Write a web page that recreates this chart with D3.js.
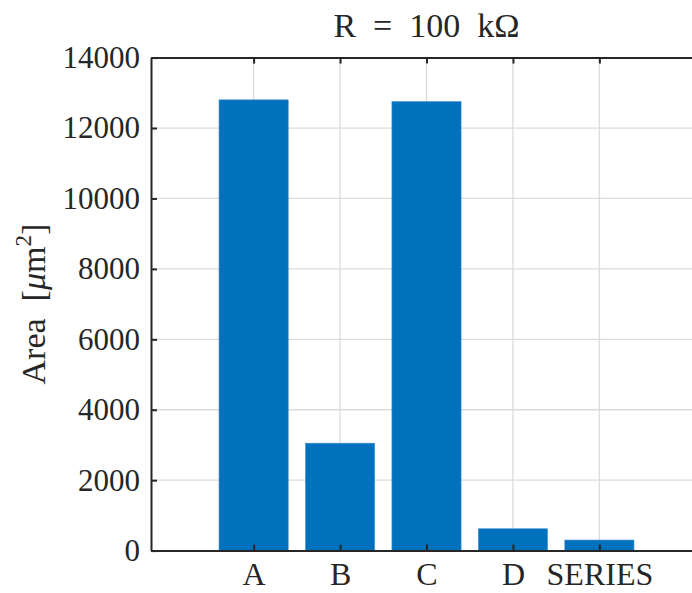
<!DOCTYPE html>
<html>
<head>
<meta charset="utf-8">
<script src="https://cdn.jsdelivr.net/npm/d3@7"></script>
<style>
  body { margin: 0; background: #fff; }
  text { font-family: "Liberation Serif", "DejaVu Serif", serif; fill: #262626; white-space: pre; }
</style>
</head>
<body>
<svg id="chart" width="692" height="593"></svg>
<script>
// values
var categories = ["A", "B", "C", "D", "SERIES"];
var areas = [12800, 3050, 12750, 620, 300];
var yTicks = [0, 2000, 4000, 6000, 8000, 10000, 12000, 14000];
var xLimits = [-0.187, 6.187];
var yLimits = [0, 14000];

var svg = d3.select("#chart");
var plotL = 151, plotR = 702, plotT = 57.6, plotB = 550.6;

var x = d3.scaleLinear().domain(xLimits).range([plotL, plotR]);
var y = d3.scaleLinear().domain(yLimits).range([plotB, plotT]);
var barW = x(1.8) - x(1); // BarWidth 0.8

svg.append("rect").attr("width", 692).attr("height", 593).attr("fill", "#fff");

// grid
var grid = svg.append("g").attr("stroke", "#dcdcdc").attr("stroke-width", 1.3);
grid.selectAll("line.h").data(yTicks.slice(1, -1)).enter().append("line")
    .attr("x1", plotL).attr("x2", plotR)
    .attr("y1", function(d) { return y(d); }).attr("y2", function(d) { return y(d); });
grid.selectAll("line.v").data(categories).enter().append("line")
    .attr("x1", function(d, i) { return x(i + 1); }).attr("x2", function(d, i) { return x(i + 1); })
    .attr("y1", plotT).attr("y2", plotB);

// bars
svg.selectAll("rect.bar").data(areas).enter().append("rect")
    .attr("class", "bar")
    .attr("x", function(d, i) { return x(i + 1) - barW / 2; })
    .attr("width", barW)
    .attr("y", function(d) { return y(d); })
    .attr("height", function(d) { return y(0) - y(d); })
    .attr("fill", "#0072BD")
    .attr("stroke", "#3d8fd0").attr("stroke-width", 0.6);

// axes
var yAxis = d3.axisLeft(y).tickValues(yTicks).tickFormat(d3.format("d"))
    .tickSizeInner(-6).tickSizeOuter(0).tickPadding(11);
var gy = svg.append("g").attr("transform", "translate(" + plotL + ",0)").call(yAxis);

var xPos = d3.range(1, categories.length + 1);
var xAxis = d3.axisBottom(x).tickValues(xPos).tickFormat(function(d) { return categories[d - 1]; })
    .tickSizeInner(-6).tickSizeOuter(0).tickPadding(12);
var gx = svg.append("g").attr("transform", "translate(0," + plotB + ")").call(xAxis);

var xTop = d3.axisTop(x).tickValues(xPos).tickFormat("").tickSizeInner(-6).tickSizeOuter(0);
var gt = svg.append("g").attr("transform", "translate(0," + plotT + ")").call(xTop);

[gy, gx, gt].forEach(function(g) {
    g.selectAll(".domain").attr("stroke", "#262626").attr("stroke-width", 2);
    g.selectAll(".tick line").attr("stroke", "#262626").attr("stroke-width", 2);
    g.selectAll("text").attr("font-size", 31).attr("font-family", "Liberation Serif").attr("fill", "#262626");
});
gx.selectAll("text").attr("font-size", 32);

// title
svg.append("text").attr("x", (plotL + plotR) / 2).attr("y", 37)
    .attr("text-anchor", "middle").attr("font-size", 34)
    .text("R  =  100  k\u03A9");

// y label
var yl = svg.append("text")
    .attr("transform", "translate(45," + ((plotT + plotB) / 2) + ") rotate(-90)")
    .attr("text-anchor", "middle").attr("font-size", 34);
yl.append("tspan").text("Area  [");
yl.append("tspan").attr("font-style", "italic").text("\u03BC");
yl.append("tspan").text("m");
yl.append("tspan").attr("dy", -14).attr("font-size", 23).text("2");
yl.append("tspan").attr("dy", 14).text("]");
</script>
</body>
</html>
